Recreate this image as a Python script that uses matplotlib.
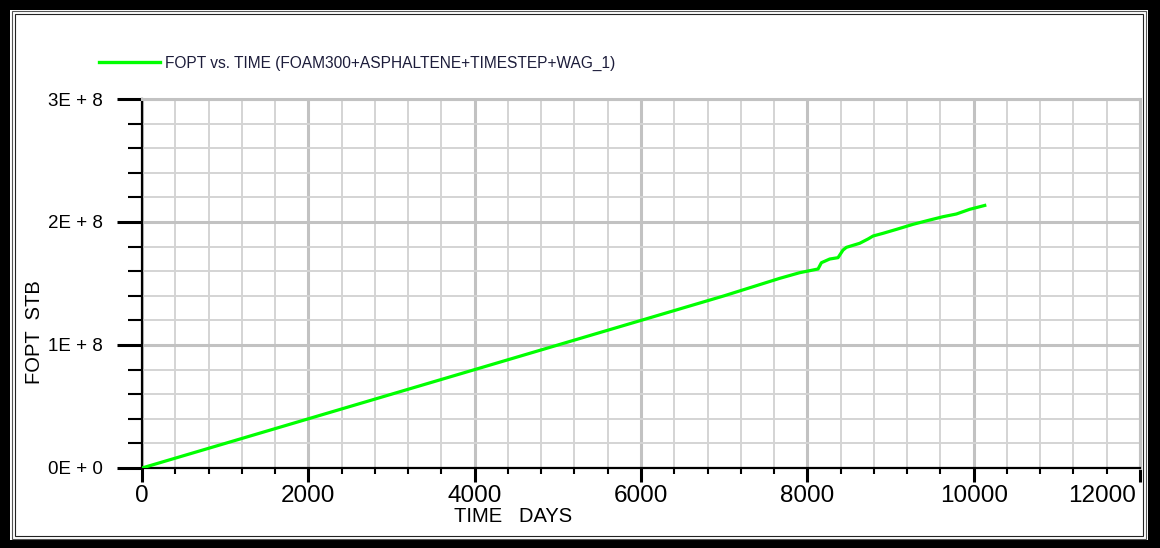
"""Cumulative field oil production (FOPT) against simulation time."""

import matplotlib
matplotlib.use("Agg")
import matplotlib.pyplot as plt
from matplotlib.patches import Rectangle
from matplotlib.ticker import MultipleLocator
from matplotlib.transforms import ScaledTranslation

# Simulation output, FOAM300+ASPHALTENE+TIMESTEP+WAG_1 case
time_days = [0, 1000, 2000, 3000, 4000, 5000, 6000, 7000, 7668, 7909, 8129,
             8169, 8269, 8369, 8429, 8470, 8630, 8730, 8790, 8910, 9071,
             9271, 9471, 9631, 9792, 9952, 10152]
fopt_stb = [0.0, 0.20e8, 0.40e8, 0.60e8, 0.80e8, 1.00e8, 1.20e8, 1.40e8,
            1.542e8, 1.588e8, 1.618e8, 1.669e8, 1.699e8, 1.710e8, 1.772e8,
            1.794e8, 1.827e8, 1.862e8, 1.886e8, 1.908e8, 1.940e8, 1.981e8,
            2.016e8, 2.043e8, 2.065e8, 2.103e8, 2.138e8]

x_ticks = [0, 2000, 4000, 6000, 8000, 10000, 12000]
x_ticklabels = ["0", "2000", "4000", "6000", "8000", "10000", "12000"]
y_ticks = [0, 1e8, 2e8, 3e8]
y_ticklabels = ["0E + 0", "1E + 8", "2E + 8", "3E + 8"]

series_label = "FOPT vs. TIME (FOAM300+ASPHALTENE+TIMESTEP+WAG_1)"
x_title = "TIME   DAYS"
y_title = "FOPT  STB"

W, H = 1160, 548
GREEN = "#00ff00"
FONT = "Liberation Sans"

fig = plt.figure(figsize=(W / 100, H / 100), dpi=100)

# window frame: thick black border plus two thin inner rules
fig.patches.append(Rectangle((0, 0), 1, 1, transform=fig.transFigure,
                             facecolor="black", edgecolor="none", zorder=-3))
fig.patches.append(Rectangle((10 / W, 8 / H), 1 - 22 / W, 1 - 18 / H,
                             transform=fig.transFigure, facecolor="white",
                             edgecolor="none", zorder=-2))
for inset, col in [(12, "#555555"), (15, "#222222")]:
    fig.patches.append(Rectangle((inset / W, (inset - 3) / H),
                                 1 - (2 * inset + 2) / W, 1 - (2 * inset - 4) / H,
                                 transform=fig.transFigure, facecolor="none",
                                 edgecolor=col, lw=0.8, zorder=-1))

ax = fig.add_axes([142 / W, 1 - 468 / H, 998 / W, 369 / H])
ax.patch.set_alpha(0)
ax.set_xlim(0, 12000)
ax.set_ylim(0, 3e8)

ax.plot(time_days, fopt_stb, color=GREEN, lw=2.3, solid_capstyle="butt",
        zorder=3)

# grid: minor every 400 days / 2E+7 STB, heavier major lines
ax.set_xticks(x_ticks)
ax.set_xticklabels(x_ticklabels, family=FONT)
ax.set_yticks(y_ticks)
ax.set_yticklabels(y_ticklabels, family=FONT)
ax.xaxis.set_minor_locator(MultipleLocator(400))
ax.yaxis.set_minor_locator(MultipleLocator(0.2e8))
ax.grid(which="minor", color="#d4d4d4", lw=1.4)
ax.grid(which="major", color="#c2c2c2", lw=2.2)
ax.set_axisbelow(True)

for side in ("left", "bottom"):
    ax.spines[side].set_color("black")
    ax.spines[side].set_linewidth(1.6)
for side in ("top", "right"):
    ax.spines[side].set_color("#c2c2c2")
    ax.spines[side].set_linewidth(2.2)

ax.tick_params(axis="y", which="major", direction="out", length=18, width=2.2,
               pad=10, labelsize=13.5)
ax.tick_params(axis="y", which="minor", direction="out", length=10, width=1.5)
ax.tick_params(axis="x", which="major", direction="out", length=10, width=2.2,
               pad=2, labelsize=17.5)
ax.tick_params(axis="x", which="minor", direction="out", length=4, width=1.5)

# last day label sits left of its tick so it stays inside the frame
last = ax.get_xticklabels()[-1]
last.set_horizontalalignment("right")
last.set_transform(last.get_transform()
                   + ScaledTranslation(-4 / 100, 0, fig.dpi_scale_trans))

fig.text(513 / W, 1 - 517 / H, x_title, ha="center", va="center",
         fontsize=14.5, family=FONT)
fig.text(35 / W, 1 - 332 / H, y_title, ha="center", va="center",
         rotation=90, fontsize=14.5, family=FONT)

# series key above the plot
fig.add_artist(plt.Line2D([99 / W, 160 / W], [1 - 62 / H, 1 - 62 / H],
                          transform=fig.transFigure, color=GREEN, lw=2.4))
fig.text(165 / W, 1 - 63 / H, series_label, ha="left", va="center",
         fontsize=11.2, family=FONT, color="#1c1c3a")

fig.savefig("out.png", dpi=100)
